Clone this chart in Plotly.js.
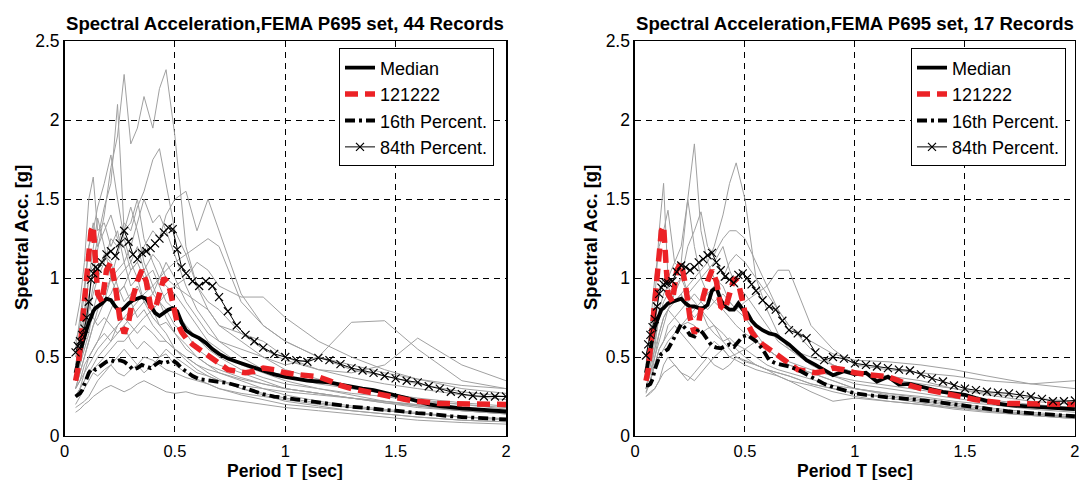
<!DOCTYPE html>
<html>
<head>
<meta charset="utf-8">
<script src="https://cdn.plot.ly/plotly-3.0.1.min.js"></script>
<style>html,body{margin:0;padding:0;background:#fff;}#chart{width:1081px;height:480px;}</style>
</head>
<body>
<div id="chart"></div>
<script>
// Periods for the summary curves
const T = [0.05,0.06,0.07,0.08,0.09,0.10,0.11,0.12,0.13,0.14,0.15,
  0.17,0.19,0.21,0.23,0.25,0.27,0.29,0.31,0.33,0.35,0.37,0.39,0.41,0.43,0.45,0.47,0.49,0.51,0.53,0.55,
  0.58,0.61,0.64,0.67,0.70,
  0.74,0.78,0.82,0.86,0.90,
  0.95,1.00,1.05,1.10,1.15,1.20,1.25,1.30,1.35,1.40,1.45,1.50,1.55,1.60,1.65,1.70,1.75,1.80,1.85,1.90,1.95,2.00];

// Periods for the individual records
const G = [0.05,0.07,0.09,0.11,0.13,0.15,0.18,0.21,0.24,0.27,0.30,0.33,0.36,0.40,0.43,0.46,0.50,0.55,0.60,0.65,0.70,0.80,0.90,1.00,1.15,1.30,1.45,1.60,1.80,2.00];

// Left panel (44 records)
const medianL = [0.40,0.45,0.52,0.58,0.63,0.68,0.72,0.75,0.79,0.81,0.82,
  0.84,0.87,0.86,0.82,0.79,0.81,0.84,0.86,0.87,0.88,0.87,0.82,0.78,0.76,0.78,0.80,0.81,0.79,0.72,0.67,
  0.64,0.62,0.59,0.55,0.52,
  0.49,0.47,0.45,0.43,0.41,
  0.39,0.375,0.36,0.35,0.345,0.34,0.325,0.31,0.30,0.29,0.275,0.26,0.24,0.22,0.20,0.19,0.18,0.175,0.17,0.165,0.16,0.155];
const p16L = [0.25,0.26,0.27,0.29,0.33,0.37,0.40,0.42,0.43,0.42,0.43,
  0.45,0.47,0.48,0.47,0.48,0.47,0.45,0.42,0.43,0.45,0.44,0.43,0.45,0.47,0.46,0.47,0.48,0.46,0.43,0.41,
  0.38,0.36,0.355,0.345,0.34,
  0.335,0.32,0.30,0.28,0.265,
  0.25,0.24,0.23,0.22,0.21,0.20,0.19,0.185,0.18,0.17,0.165,0.16,0.15,0.145,0.14,0.13,0.125,0.12,0.115,0.11,0.108,0.105];
const p84L = [0.53,0.57,0.60,0.64,0.68,0.75,0.85,0.99,1.03,1.07,1.06,
  1.10,1.15,1.17,1.14,1.22,1.30,1.23,1.15,1.12,1.16,1.17,1.19,1.22,1.25,1.29,1.32,1.31,1.18,1.07,1.03,
  0.98,0.95,0.98,0.95,0.88,
  0.79,0.70,0.64,0.60,0.56,
  0.52,0.50,0.48,0.47,0.495,0.48,0.455,0.43,0.415,0.40,0.38,0.365,0.35,0.34,0.315,0.30,0.28,0.265,0.255,0.25,0.25,0.25];

// Record 121222 (same in both panels)
const rec121222 = [0.35,0.42,0.55,0.70,0.85,0.95,1.10,1.30,1.33,1.15,0.90,
  0.85,1.05,1.10,0.95,0.75,0.65,0.72,0.88,0.98,1.05,0.98,0.82,0.80,0.90,1.00,0.97,0.85,0.72,0.66,0.62,
  0.58,0.55,0.52,0.48,0.45,
  0.42,0.41,0.40,0.41,0.43,
  0.42,0.40,0.39,0.38,0.375,0.35,0.32,0.30,0.285,0.275,0.26,0.245,0.23,0.22,0.21,0.205,0.205,0.205,0.205,0.205,0.20,0.20];

// Right panel (17 records)
const medianR = [0.40,0.48,0.56,0.63,0.69,0.73,0.77,0.80,0.81,0.83,0.84,
  0.85,0.86,0.87,0.84,0.82,0.82,0.81,0.81,0.83,0.92,0.94,0.86,0.82,0.80,0.80,0.84,0.80,0.78,0.73,0.70,
  0.67,0.65,0.64,0.61,0.58,
  0.53,0.48,0.45,0.42,0.385,
  0.41,0.39,0.40,0.345,0.375,0.325,0.33,0.31,0.295,0.28,0.27,0.26,0.24,0.22,0.205,0.195,0.19,0.185,0.18,0.175,0.17,0.17];
const p16R = [0.32,0.32,0.33,0.36,0.42,0.47,0.50,0.52,0.53,0.54,0.55,
  0.60,0.66,0.71,0.68,0.64,0.63,0.68,0.65,0.61,0.57,0.56,0.555,0.57,0.58,0.565,0.60,0.63,0.64,0.62,0.60,
  0.55,0.48,0.46,0.45,0.44,
  0.42,0.39,0.36,0.33,0.31,
  0.29,0.27,0.26,0.25,0.245,0.24,0.235,0.23,0.22,0.21,0.20,0.19,0.18,0.17,0.16,0.155,0.15,0.145,0.14,0.135,0.13,0.125];
const p84R = [0.51,0.58,0.64,0.69,0.74,0.82,0.90,0.94,0.96,0.97,0.97,
  0.98,1.04,1.08,1.07,1.05,1.07,1.10,1.12,1.145,1.16,1.10,1.05,1.01,0.99,0.97,1.02,1.03,1.00,0.96,0.92,
  0.86,0.82,0.80,0.73,0.67,
  0.65,0.62,0.53,0.48,0.50,
  0.49,0.46,0.45,0.44,0.43,0.42,0.415,0.39,0.365,0.345,0.32,0.30,0.29,0.28,0.275,0.27,0.26,0.25,0.235,0.22,0.22,0.225];

// Individual records, left panel
const recordsL = [
  [0.45,0.60,0.75,0.90,1.05,1.20,1.40,1.70,1.90,2.29,1.85,1.95,2.15,1.95,2.20,2.32,1.90,1.20,0.95,0.80,0.70,0.60,0.50,0.42,0.36,0.30,0.27,0.23,0.20,0.17],
  [0.50,0.65,0.80,1.00,1.10,1.25,1.45,1.60,2.10,1.30,1.35,1.50,1.25,1.10,1.00,0.95,0.90,0.80,0.70,0.60,0.55,0.45,0.40,0.35,0.30,0.26,0.22,0.19,0.16,0.14],
  [0.35,0.50,0.65,0.80,0.90,1.00,1.10,1.25,1.20,1.35,1.30,1.45,1.55,1.75,1.82,1.60,1.30,1.15,0.95,0.85,0.80,0.65,0.55,0.48,0.42,0.37,0.33,0.30,0.26,0.23],
  [0.60,0.70,0.90,1.20,1.30,1.45,1.60,1.78,1.50,1.25,1.10,1.20,1.05,0.90,0.85,0.75,0.65,0.55,0.50,0.45,0.40,0.35,0.30,0.26,0.22,0.19,0.17,0.15,0.12,0.10],
  [0.70,0.85,1.10,1.50,1.64,1.30,1.35,1.20,1.30,1.10,0.95,1.00,0.85,0.80,0.70,0.65,0.55,0.50,0.45,0.40,0.36,0.30,0.26,0.22,0.19,0.16,0.14,0.12,0.10,0.09],
  [0.30,0.35,0.45,0.50,0.55,0.60,0.70,0.80,0.90,0.95,1.05,1.10,1.20,1.30,1.25,1.40,1.50,1.55,1.30,1.50,1.30,0.90,0.70,0.60,0.50,0.42,0.38,0.33,0.28,0.25],
  [0.25,0.30,0.35,0.40,0.45,0.50,0.55,0.60,0.65,0.70,0.75,0.80,0.85,0.90,1.00,1.10,1.00,0.85,0.75,0.65,0.60,0.55,0.50,0.45,0.50,0.72,0.73,0.55,0.35,0.30],
  [0.30,0.40,0.50,0.60,0.70,0.75,0.85,0.90,1.00,1.05,1.10,1.00,1.05,1.15,1.10,1.00,0.95,0.90,0.85,0.80,0.70,0.65,0.60,0.50,0.42,0.40,0.45,0.62,0.45,0.35],
  [0.25,0.30,0.35,0.40,0.42,0.45,0.50,0.55,0.60,0.60,0.65,0.70,0.75,0.80,0.85,0.90,0.95,1.00,1.10,1.05,0.95,0.88,0.88,0.75,0.60,0.50,0.42,0.36,0.30,0.27],
  [0.15,0.17,0.20,0.22,0.25,0.27,0.30,0.32,0.30,0.28,0.30,0.33,0.35,0.32,0.30,0.28,0.27,0.28,0.26,0.25,0.24,0.22,0.20,0.18,0.16,0.14,0.12,0.10,0.085,0.075],
  [0.20,0.25,0.30,0.35,0.40,0.38,0.42,0.45,0.40,0.38,0.42,0.45,0.50,0.48,0.45,0.42,0.40,0.37,0.35,0.33,0.30,0.27,0.25,0.23,0.20,0.18,0.16,0.14,0.12,0.11],
  [0.45,0.60,0.75,1.00,1.20,1.38,1.20,1.00,0.90,0.95,0.85,0.75,0.80,0.70,0.65,0.60,0.55,0.48,0.42,0.38,0.35,0.30,0.27,0.24,0.21,0.18,0.16,0.14,0.12,0.11],
  [0.35,0.45,0.55,0.65,0.80,0.90,0.85,1.00,1.15,1.30,1.45,1.30,1.10,0.95,0.85,0.80,0.70,0.65,0.55,0.50,0.45,0.40,0.35,0.30,0.27,0.24,0.21,0.19,0.16,0.14],
  [0.40,0.55,0.70,0.85,0.75,0.70,0.75,0.70,0.65,0.70,0.60,0.55,0.60,0.55,0.50,0.52,0.45,0.40,0.36,0.33,0.30,0.26,0.23,0.20,0.18,0.16,0.14,0.12,0.10,0.09],
  [0.30,0.40,0.50,0.60,0.70,0.80,0.90,1.00,1.05,1.10,1.20,1.35,1.50,1.35,1.40,1.30,1.15,0.95,0.80,0.70,0.60,0.50,0.42,0.38,0.33,0.30,0.27,0.24,0.21,0.19],
  [0.18,0.20,0.22,0.25,0.30,0.35,0.40,0.45,0.50,0.55,0.50,0.45,0.40,0.45,0.50,0.55,0.50,0.45,0.40,0.38,0.35,0.32,0.30,0.28,0.26,0.24,0.22,0.20,0.17,0.15],
  [0.30,0.35,0.40,0.45,0.50,0.55,0.60,0.65,0.70,0.75,0.80,0.85,0.90,0.95,1.00,1.05,1.10,1.15,1.20,1.25,1.20,0.85,0.70,0.60,0.50,0.45,0.40,0.36,0.32,0.30],
  [0.35,0.45,0.60,0.80,0.95,1.05,1.15,1.10,0.95,0.85,0.90,0.95,0.85,0.75,0.70,0.72,0.65,0.58,0.50,0.45,0.42,0.37,0.33,0.30,0.27,0.24,0.22,0.20,0.17,0.15],
  [0.25,0.30,0.40,0.50,0.55,0.60,0.65,0.60,0.70,0.75,0.70,0.65,0.70,0.65,0.60,0.60,0.55,0.50,0.45,0.42,0.40,0.36,0.33,0.30,0.27,0.24,0.21,0.18,0.16,0.14],
  [0.55,0.75,0.95,1.20,1.35,1.20,1.30,1.40,1.25,1.20,1.05,1.10,1.00,1.05,0.95,0.85,0.80,0.70,0.62,0.55,0.50,0.42,0.37,0.33,0.30,0.27,0.25,0.22,0.20,0.18]
];

// Individual records, right panel
const recordsR = [
  [0.30,0.40,0.55,0.80,0.90,0.95,1.00,1.10,1.50,1.85,1.30,1.10,1.00,0.95,0.85,0.80,0.75,0.65,0.55,0.50,0.45,0.40,0.35,0.30,0.27,0.24,0.21,0.18,0.15,0.13],
  [0.35,0.45,0.55,0.65,0.75,0.80,0.85,0.90,0.95,1.00,1.05,1.10,1.20,1.40,1.60,1.73,1.50,1.00,0.80,0.65,0.55,0.45,0.38,0.33,0.30,0.27,0.24,0.21,0.18,0.16],
  [0.40,0.60,0.85,1.30,1.60,1.00,1.10,1.05,0.90,0.85,0.80,0.75,0.70,0.65,0.60,0.55,0.50,0.45,0.42,0.40,0.38,0.33,0.30,0.27,0.24,0.21,0.18,0.16,0.14,0.12],
  [0.45,0.70,1.00,1.20,1.30,1.43,1.10,1.20,1.50,1.20,1.00,0.90,0.85,0.80,0.75,0.70,0.65,0.60,0.55,0.50,0.47,0.42,0.38,0.35,0.32,0.29,0.26,0.23,0.20,0.18],
  [0.30,0.40,0.50,0.60,0.70,0.80,0.90,1.00,1.20,1.30,1.42,1.20,1.15,1.25,1.30,1.30,1.25,1.10,0.95,0.80,0.70,0.55,0.45,0.40,0.36,0.33,0.30,0.27,0.24,0.22],
  [0.30,0.35,0.45,0.50,0.55,0.60,0.65,0.70,0.75,0.80,0.85,0.80,0.85,0.90,0.85,0.80,0.85,0.90,0.95,1.05,1.05,0.70,0.55,0.45,0.42,0.40,0.38,0.35,0.33,0.35],
  [0.25,0.28,0.30,0.35,0.40,0.42,0.45,0.40,0.38,0.35,0.40,0.45,0.50,0.55,0.50,0.48,0.45,0.42,0.40,0.38,0.35,0.32,0.28,0.25,0.22,0.20,0.18,0.16,0.13,0.11],
  [0.35,0.50,0.70,0.90,1.00,0.95,0.85,0.90,0.80,0.75,0.80,0.70,0.65,0.60,0.62,0.58,0.55,0.50,0.45,0.42,0.40,0.36,0.32,0.30,0.27,0.25,0.22,0.20,0.17,0.15],
  [0.30,0.45,0.60,0.75,0.85,0.90,0.95,1.00,0.90,0.95,1.00,1.05,1.10,1.20,1.05,0.95,0.90,0.80,0.70,0.60,0.55,0.50,0.45,0.40,0.38,0.35,0.30,0.26,0.22,0.20],
  [0.28,0.35,0.45,0.55,0.60,0.65,0.70,0.65,0.60,0.55,0.50,0.55,0.60,0.55,0.50,0.52,0.55,0.60,0.55,0.50,0.45,0.40,0.35,0.30,0.26,0.23,0.20,0.17,0.14,0.12],
  [0.30,0.35,0.45,0.55,0.60,0.70,0.75,0.80,0.85,0.90,0.85,0.90,0.95,1.00,1.10,1.15,1.10,1.00,0.90,0.80,0.70,0.60,0.52,0.48,0.47,0.45,0.42,0.38,0.33,0.30],
  [0.25,0.27,0.30,0.35,0.45,0.50,0.45,0.40,0.35,0.40,0.45,0.50,0.45,0.42,0.45,0.50,0.48,0.45,0.42,0.40,0.38,0.33,0.30,0.27,0.25,0.22,0.19,0.16,0.13,0.11],
  [0.27,0.35,0.50,0.65,0.75,0.80,0.75,0.70,0.72,0.70,0.65,0.68,0.70,0.60,0.55,0.50,0.47,0.45,0.42,0.38,0.35,0.28,0.22,0.24,0.22,0.20,0.17,0.15,0.13,0.12]
];

const legendNames = ['Median', '121222', '16th Percent.', '84th Percent.'];
const titles = ['Spectral Acceleration,FEMA P695 set, 44 Records', 'Spectral Acceleration,FEMA P695 set, 17 Records'];
const xTickVals = [0, 0.5, 1, 1.5, 2];
const xTickText = ['0', '0.5', '1', '1.5', '2'];
const yTickVals = [0, 0.5, 1, 1.5, 2, 2.5];
const yTickText = ['0', '0.5', '1', '1.5', '2', '2.5'];

const FONT = 'Liberation Sans, Arial, Helvetica, sans-serif';
const GRAY = '#a0a0a0';
const RED = 'rgb(236,34,38)';

function panel(xa, ya, leg, records, med, p16, p84) {
  const tr = [];
  records.forEach(r => tr.push({
    x: G, y: r, xaxis: xa, yaxis: ya, type: 'scatter', mode: 'lines',
    line: {color: GRAY, width: 1}, showlegend: false, hoverinfo: 'skip'
  }));
  tr.push({x: T, y: med, xaxis: xa, yaxis: ya, mode: 'lines', name: legendNames[0], legend: leg, legendgroup: leg + 'a',
    line: {color: '#000', width: 3.8}});
  tr.push({x: T, y: rec121222, xaxis: xa, yaxis: ya, mode: 'lines', name: legendNames[1], legend: leg, legendgroup: leg + 'b',
    line: {color: RED, width: 5.5, dash: '13px,7px'}});
  tr.push({x: T, y: p16, xaxis: xa, yaxis: ya, mode: 'lines', name: legendNames[2], legend: leg, legendgroup: leg + 'c',
    line: {color: '#000', width: 3.8, dash: '10px,4px,3px,4px'}});
  tr.push({x: T, y: p84, xaxis: xa, yaxis: ya, mode: 'lines+markers', name: legendNames[3], legend: leg, legendgroup: leg + 'd',
    line: {color: '#000', width: 1}, marker: {symbol: 'x-thin-open', size: 8, color: '#000', line: {width: 1.2, color: '#000'}}});
  return tr;
}

const data = [].concat(
  panel('x', 'y', 'legend', recordsL, medianL, p16L, p84L),
  panel('x2', 'y2', 'legend2', recordsR, medianR, p16R, p84R)
);

function xax(domain, anchor) {
  return {domain: domain, anchor: anchor, range: [0, 2], tickvals: xTickVals, ticktext: xTickText,
    showgrid: true, gridcolor: '#000', gridwidth: 1, griddash: '6px,5px', zeroline: false,
    showline: true, mirror: true, linecolor: '#000', linewidth: 1.5, ticks: '',
    tickfont: {family: FONT, size: 16.5, color: '#000'}, fixedrange: true};
}
function yax(domain, anchor) {
  return {domain: domain, anchor: anchor, range: [0, 2.5], tickvals: yTickVals, ticktext: yTickText,
    showgrid: true, gridcolor: '#000', gridwidth: 1, griddash: '6px,5px', zeroline: false,
    showline: true, mirror: true, linecolor: '#000', linewidth: 1.5, ticks: '',
    tickfont: {family: FONT, size: 17.5, color: '#000'}, fixedrange: true};
}

const yDom = [0.0917, 0.914];
const xDomL = [0.0597, 0.4681];
const xDomR = [0.5874, 0.9944];

function legendCfg(x) {
  return {x: x, y: 0.899, xanchor: 'left', yanchor: 'top', bgcolor: '#fff', bordercolor: '#000', borderwidth: 1,
    font: {family: FONT, size: 18, color: '#000'}, traceorder: 'grouped', tracegroupgap: 0, itemwidth: 30};
}

const ann = [];
[[xDomL, 0], [xDomR, 1]].forEach(([d, i]) => {
  const cx = (d[0] + d[1]) / 2;
  ann.push({text: '<b>' + titles[i] + '</b>', xref: 'paper', yref: 'paper', x: cx, y: 1 - 23 / 480,
    xanchor: 'center', yanchor: 'middle', showarrow: false, font: {family: FONT, size: 18.6, color: '#000'}});
  ann.push({text: '<b>Period T [sec]</b>', xref: 'paper', yref: 'paper', x: cx, y: 0,
    xanchor: 'center', yanchor: 'bottom', yshift: -3, showarrow: false, font: {family: FONT, size: 17.5, color: '#000'}});
});
ann.push({text: '<b>Spectral Acc. [g]</b>', xref: 'paper', yref: 'paper', x: 21 / 1081, y: 1 - 238 / 480,
  xanchor: 'center', yanchor: 'middle', textangle: -90, showarrow: false, font: {family: FONT, size: 18.5, color: '#000'}});
ann.push({text: '<b>Spectral Acc. [g]</b>', xref: 'paper', yref: 'paper', x: 590 / 1081, y: 1 - 238 / 480,
  xanchor: 'center', yanchor: 'middle', textangle: -90, showarrow: false, font: {family: FONT, size: 18.5, color: '#000'}});

const layout = {
  width: 1081, height: 480,
  margin: {l: 0, r: 0, t: 0, b: 0},
  paper_bgcolor: '#fff', plot_bgcolor: '#fff',
  font: {family: FONT, color: '#000'},
  xaxis: xax(xDomL, 'y'), yaxis: yax(yDom, 'x'),
  xaxis2: xax(xDomR, 'y2'), yaxis2: yax(yDom, 'x2'),
  legend: legendCfg(339 / 1081),
  legend2: legendCfg(911 / 1081),
  annotations: ann,
  showlegend: true
};

Plotly.newPlot('chart', data, layout, {displayModeBar: false, staticPlot: true});
</script>
</body>
</html>
